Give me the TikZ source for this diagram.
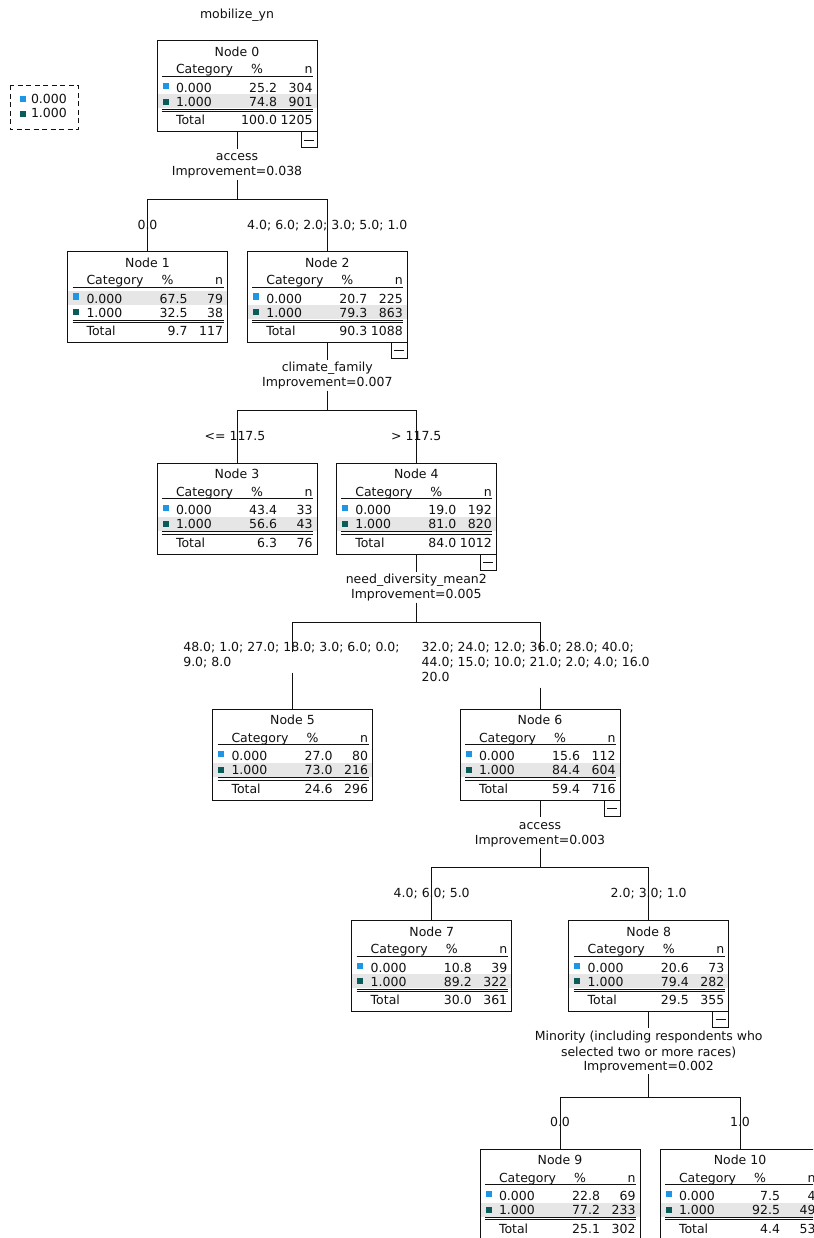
\documentclass[tikz,border=0pt]{standalone}
\usepackage{fontspec}
\setmainfont{DejaVu Sans}
\usetikzlibrary{calc}
\definecolor{catblue}{HTML}{1E96E6}
\definecolor{catteal}{HTML}{0A5C58}
\definecolor{rowgray}{HTML}{E6E6E6}
\definecolor{ink}{HTML}{111111}
\tikzset{
  tx/.style={font=\fontsize{12.5}{15}\selectfont, text=ink, inner sep=0pt, outer sep=0pt},
  boxframe/.style={draw=ink, line width=1pt, minimum width=160pt, minimum height=91pt, inner sep=0pt, outer sep=0pt},
  rule/.style={draw=ink, line width=0.9pt},
  conn/.style={draw=ink, line width=1pt},
  splitlab/.style={tx, text height=12pt},
  splitlast/.style={tx, text depth=4pt},
  blab/.style={tx, text depth=6pt},
  legframe/.style={draw=ink, line width=1pt, dash pattern=on 5pt off 3.5pt}
}
% #1 name, #2 cx, #3 top, #4 number, #5 p0, #6 n0, #7 p1, #8 n1, #9 shaded row
\newcommand\cartbox[9]{%
  \pgfmathsetmacro\cL{#2-80}\pgfmathsetmacro\cT{#3}%
  \ifnum#9=1\relax
    \fill[rowgray] (\cL+0.5,\cT+39.5) rectangle (\cL+159.5,\cT+53.5);
  \else
    \fill[rowgray] (\cL+0.5,\cT+53.5) rectangle (\cL+159.5,\cT+67.5);
  \fi
  \node[boxframe] (#1) at (#2,\cT+45.5) {};
  \node[tx,anchor=base] (#1-ttl) at (#2,\cT+15.5) {Node #4};
  \node[tx,anchor=base west] (#1-hc) at (\cL+19,\cT+33) {Category};
  \node[tx,anchor=base] (#1-hp) at (\cL+100,\cT+33) {\%};
  \node[tx,anchor=base east] (#1-hn) at (\cL+155.5,\cT+33) {n};
  \draw[rule] (\cL+5,\cT+35.5) -- (\cL+156,\cT+35.5);
  \fill[catblue] (\cL+5.5,\cT+41.8) rectangle (\cL+11.5,\cT+47.8);
  \node[tx,anchor=base west] (#1-a) at (\cL+19,\cT+51.5) {0.000};
  \node[tx,anchor=base east] (#1-ap) at (\cL+120,\cT+51.5) {#5};
  \node[tx,anchor=base east] (#1-an) at (\cL+155.5,\cT+51.5) {#6};
  \fill[catteal] (\cL+5.5,\cT+57.6) rectangle (\cL+11.5,\cT+63.6);
  \node[tx,anchor=base west] (#1-b) at (\cL+19,\cT+65.5) {1.000};
  \node[tx,anchor=base east] (#1-bp) at (\cL+120,\cT+65.5) {#7};
  \node[tx,anchor=base east] (#1-bn) at (\cL+155.5,\cT+65.5) {#8};
  \draw[rule] (\cL+5,\cT+68.5) -- (\cL+156,\cT+68.5) (\cL+5,\cT+70.7) -- (\cL+156,\cT+70.7);
  \cartrest{#1}}
% #1 name, #2 total pct, #3 total n, #4 minus box (1/0)
\newcommand\cartrest[4]{%
  \node[tx,anchor=base west] (#1-t) at (\cL+19,\cT+84) {Total};
  \node[tx,anchor=base east] (#1-tp) at (\cL+120,\cT+84) {#2};
  \node[tx,anchor=base east] (#1-tn) at (\cL+155.5,\cT+84) {#3};
  \ifnum#4=1\relax
    \draw[conn] (\cL+144,\cT+91) rectangle (\cL+160,\cT+107);
    \draw[rule] (\cL+147,\cT+99) -- (\cL+157,\cT+99);
  \fi}
\begin{document}
\begin{tikzpicture}[x=1pt,y=-1pt]
\useasboundingbox (0,0) rectangle (813,1238);
\clip (0,0) rectangle (813,1238);
\fill[white] (0,0) rectangle (813,1238);

% title
\node[tx,anchor=base] (title) at (237,18.5) {mobilize\_yn};

% legend
\draw[legframe] (10,85.5) rectangle (78,130);
\fill[catblue] (19.5,95.8) rectangle (25.5,101.8);
\fill[catteal] (19.5,110.8) rectangle (25.5,116.8);
\node[tx,anchor=base west] (lg0) at (31,103.3) {0.000};
\node[tx,anchor=base west] (lg1) at (31,117.7) {1.000};

% nodes
\cartbox{n0}{237}{41}{0}{25.2}{304}{74.8}{901}{2}{100.0}{1205}{1}
\cartbox{n1}{147.5}{251.7}{1}{67.5}{79}{32.5}{38}{1}{9.7}{117}{0}
\cartbox{n2}{327.3}{251.7}{2}{20.7}{225}{79.3}{863}{2}{90.3}{1088}{1}
\cartbox{n3}{237}{463.3}{3}{43.4}{33}{56.6}{43}{2}{6.3}{76}{0}
\cartbox{n4}{416.3}{463.3}{4}{19.0}{192}{81.0}{820}{2}{84.0}{1012}{1}
\cartbox{n5}{292.5}{709.3}{5}{27.0}{80}{73.0}{216}{2}{24.6}{296}{0}
\cartbox{n6}{540}{709.3}{6}{15.6}{112}{84.4}{604}{2}{59.4}{716}{1}
\cartbox{n7}{431.7}{920.7}{7}{10.8}{39}{89.2}{322}{2}{30.0}{361}{0}
\cartbox{n8}{648.7}{920.7}{8}{20.6}{73}{79.4}{282}{2}{29.5}{355}{1}
\cartbox{n9}{560}{1149}{9}{22.8}{69}{77.2}{233}{2}{25.1}{302}{0}
\cartbox{n10}{740}{1149}{10}{7.5}{4}{92.5}{49}{2}{4.4}{53}{0}

% split 0
\node[splitlab,anchor=base] (s0a) at (237,161) {access};
\node[splitlast,anchor=base] (s0b) at (237,176) {Improvement=0.038};
\coordinate (h0) at (237,200);
\draw[conn] (n0.south) -- (s0a.north);
\draw[conn] (s0b.south) -- (h0);
\draw[conn] (n1.north) -- (n1.north |- h0) -- (n2.north |- h0) -- (n2.north);
\node[blab,anchor=base] (b1) at (147.5,229.5) {0.0};
\node[blab,anchor=base] (b2) at (327.3,229.5) {4.0; 6.0; 2.0; 3.0; 5.0; 1.0};

% split 2
\node[splitlab,anchor=base] (s2a) at (327.3,371.7) {climate\_family};
\node[splitlast,anchor=base] (s2b) at (327.3,386.7) {Improvement=0.007};
\coordinate (h2) at (327.3,410.7);
\draw[conn] (n2.south) -- (s2a.north);
\draw[conn] (s2b.south) -- (h2);
\draw[conn] (n3.north) -- (n3.north |- h2) -- (n4.north |- h2) -- (n4.north);
\node[blab,anchor=base] (b3) at (235,440.2) {<= 117.5};
\node[blab,anchor=base] (b4) at (416.3,440.2) {> 117.5};

% split 4
\node[splitlab,anchor=base] (s4a) at (416.3,583.5) {need\_diversity\_mean2};
\node[splitlast,anchor=base] (s4b) at (416.3,598.5) {Improvement=0.005};
\coordinate (h4) at (416.3,622.7);
\draw[conn] (n4.south) -- (s4a.north);
\draw[conn] (s4b.south) -- (h4);
\node[blab,anchor=base west] (b5a) at (183.3,651.5) {48.0; 1.0; 27.0; 18.0; 3.0; 6.0; 0.0;};
\node[blab,anchor=base west] (b5b) at (183.3,666.5) {9.0; 8.0};
\node[blab,anchor=base west] (b6a) at (421.7,651.5) {32.0; 24.0; 12.0; 36.0; 28.0; 40.0;};
\node[blab,anchor=base west] (b6b) at (421.7,666.5) {44.0; 15.0; 10.0; 21.0; 2.0; 4.0; 16.0};
\node[blab,anchor=base west] (b6c) at (421.7,681.5) {20.0};
\draw[conn] (n5.north |- b5a.base) -- (n5.north |- h4) -- (n6.north |- h4) -- (n6.north |- b6a.base);
\draw[conn] (n5.north |- b5b.south) -- (n5.north);
\draw[conn] (n6.north |- b6c.south) -- (n6.north);

% split 6
\node[splitlab,anchor=base] (s6a) at (540,829.3) {access};
\node[splitlast,anchor=base] (s6b) at (540,844.3) {Improvement=0.003};
\coordinate (h6) at (540,867.5);
\draw[conn] (n6.south) -- (s6a.north);
\draw[conn] (s6b.south) -- (h6);
\draw[conn] (n7.north) -- (n7.north |- h6) -- (n8.north |- h6) -- (n8.north);
\node[blab,anchor=base] (b7) at (431.7,897.8) {4.0; 6.0; 5.0};
\node[blab,anchor=base] (b8) at (648.7,897.8) {2.0; 3.0; 1.0};

% split 8
\node[splitlab,anchor=base] (s8a) at (648.7,1040) {Minority (including respondents who};
\node[tx,anchor=base] (s8b) at (648.7,1056) {selected two or more races)};
\node[splitlast,anchor=base] (s8c) at (648.7,1070) {Improvement=0.002};
\coordinate (h8) at (648.7,1097);
\draw[conn] (n8.south) -- (s8a.north);
\draw[conn] (s8c.south) -- (h8);
\draw[conn] (n9.north) -- (n9.north |- h8) -- (n10.north |- h8) -- (n10.north);
\node[blab,anchor=base] (b9) at (560,1126) {0.0};
\node[blab,anchor=base] (b10) at (740,1126) {1.0};
\end{tikzpicture}
\end{document}
